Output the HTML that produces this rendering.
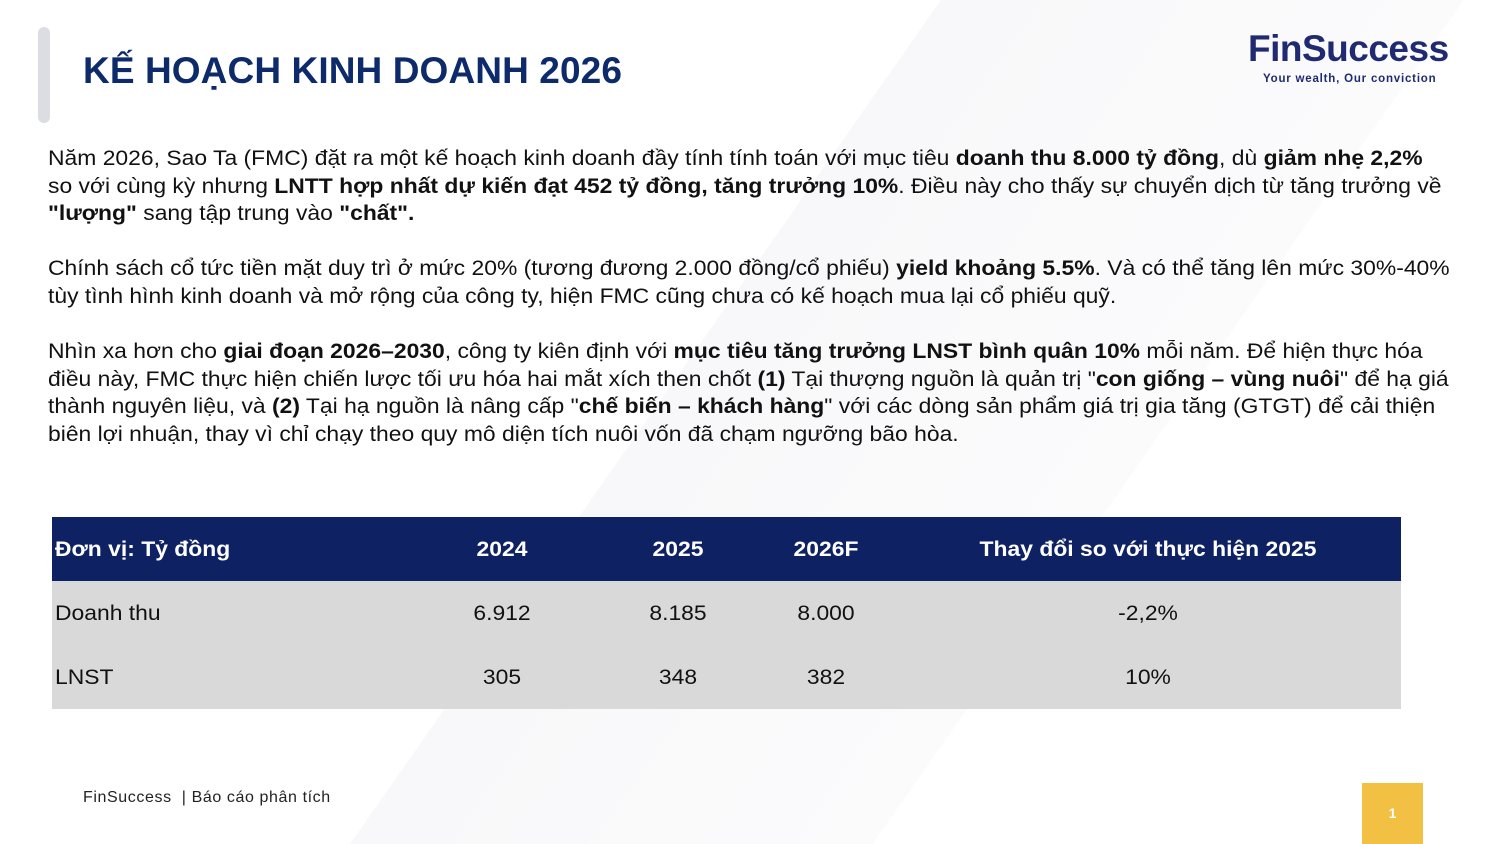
<!DOCTYPE html>
<html><head><meta charset="utf-8"><style>
*{margin:0;padding:0;box-sizing:border-box}
body{width:1500px;height:844px;position:relative;overflow:hidden;background:#fff;font-family:"Liberation Sans",Arial,sans-serif;color:#111}
.bg{position:absolute;inset:0;background:linear-gradient(125deg,#fff 0%,#fff 45%,#f8f8fa 45%,#fbfbfc 70%,#fff 70%)}
.bar{position:absolute;left:38px;top:27px;width:12px;height:96px;background:#dcdce3;border-radius:6px}
.title{position:absolute;left:83px;top:50px;font-size:37px;font-weight:bold;color:#0d2a6b;letter-spacing:0.1px}
.logo{position:absolute;left:1248px;top:28px;font-size:37px;font-weight:bold;color:#1f2a70;letter-spacing:-0.5px}
.tag{position:absolute;left:1263px;top:73px;font-size:11.5px;font-weight:bold;color:#1f2a70;letter-spacing:0.8px}
.l{position:absolute;left:48px;font-size:21px;white-space:nowrap;color:#111;transform:scaleX(1.09);transform-origin:0 0}
.l b{font-weight:bold}
.hd{position:absolute;left:52px;top:517px;width:1349px;height:64px;background:#0e2163}
.bd{position:absolute;left:52px;top:581px;width:1349px;height:128px;background:#d9d9d9}
.c{position:absolute;font-size:21px;white-space:nowrap;transform:translateX(-50%) scaleX(1.09)}
.c.h{color:#fff;font-weight:bold}
.lft{position:absolute;left:55px;font-size:21px;white-space:nowrap;transform:scaleX(1.09);transform-origin:0 0}
.foot{position:absolute;left:83px;top:789px;font-size:16px;color:#222;letter-spacing:0.6px}
.pg{position:absolute;left:1362px;top:783px;width:61px;height:61px;background:#f2c043;color:#fff;font-weight:bold;font-size:14px;text-align:center;line-height:61px}
</style></head><body>
<div class="bg"></div>
<div class="bar"></div>
<div class="title">KẾ HOẠCH KINH DOANH 2026</div>
<div class="logo">FinSuccess</div>
<div class="tag">Your wealth, Our conviction</div>
<div class="l" style="top:147px">Năm 2026, Sao Ta (FMC) đặt ra một kế hoạch kinh doanh đầy tính tính toán với mục tiêu <b>doanh thu 8.000 tỷ đồng</b>, dù <b>giảm nhẹ 2,2%</b></div>
<div class="l" style="top:174.5px">so với cùng kỳ nhưng <b>LNTT hợp nhất dự kiến đạt 452 tỷ đồng, tăng trưởng 10%</b>. Điều này cho thấy sự chuyển dịch từ tăng trưởng về</div>
<div class="l" style="top:202px"><b>"lượng"</b> sang tập trung vào <b>"chất".</b></div>
<div class="l" style="top:257px">Chính sách cổ tức tiền mặt duy trì ở mức 20% (tương đương 2.000 đồng/cổ phiếu) <b>yield khoảng 5.5%</b>. Và có thể tăng lên mức 30%-40%</div>
<div class="l" style="top:284.5px">tùy tình hình kinh doanh và mở rộng của công ty, hiện FMC cũng chưa có kế hoạch mua lại cổ phiếu quỹ.</div>
<div class="l" style="top:340px">Nhìn xa hơn cho <b>giai đoạn 2026–2030</b>, công ty kiên định với <b>mục tiêu tăng trưởng LNST bình quân 10%</b> mỗi năm. Để hiện thực hóa</div>
<div class="l" style="top:367.5px">điều này, FMC thực hiện chiến lược tối ưu hóa hai mắt xích then chốt <b>(1)</b> Tại thượng nguồn là quản trị "<b>con giống – vùng nuôi</b>" để hạ giá</div>
<div class="l" style="top:395px">thành nguyên liệu, và <b>(2)</b> Tại hạ nguồn là nâng cấp "<b>chế biến – khách hàng</b>" với các dòng sản phẩm giá trị gia tăng (GTGT) để cải thiện</div>
<div class="l" style="top:422.5px">biên lợi nhuận, thay vì chỉ chạy theo quy mô diện tích nuôi vốn đã chạm ngưỡng bão hòa.</div>
<div class="hd"></div><div class="bd"></div>
<div class="lft" style="top:538px;color:#fff;font-weight:bold">Đơn vị: Tỷ đồng</div>
<div class="c h" style="left:502px;top:538px">2024</div>
<div class="c h" style="left:678px;top:538px">2025</div>
<div class="c h" style="left:826px;top:538px">2026F</div>
<div class="c h" style="left:1148px;top:538px">Thay đổi so với thực hiện 2025</div>
<div class="lft" style="top:602px">Doanh thu</div>
<div class="c" style="left:502px;top:602px">6.912</div>
<div class="c" style="left:678px;top:602px">8.185</div>
<div class="c" style="left:826px;top:602px">8.000</div>
<div class="c" style="left:1148px;top:602px">-2,2%</div>
<div class="lft" style="top:666px">LNST</div>
<div class="c" style="left:502px;top:666px">305</div>
<div class="c" style="left:678px;top:666px">348</div>
<div class="c" style="left:826px;top:666px">382</div>
<div class="c" style="left:1148px;top:666px">10%</div>
<div class="foot">FinSuccess &nbsp;| Báo cáo phân tích</div>
<div class="pg">1</div>
</body></html>
